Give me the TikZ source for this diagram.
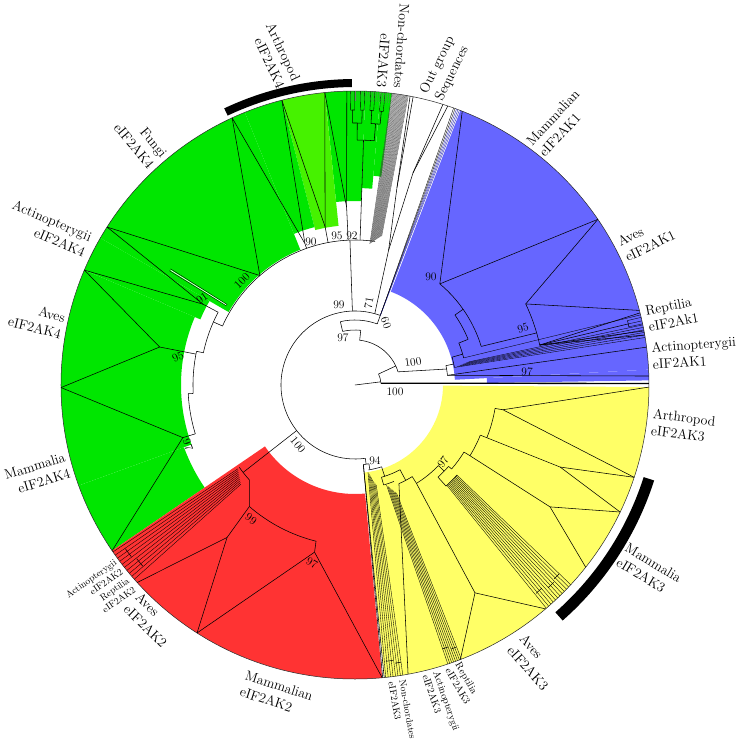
\documentclass[tikz,border=0pt]{standalone}
\usepackage{fontspec}
\definecolor{gC}{RGB}{0,230,0}
\definecolor{lgC}{RGB}{70,242,0}
\definecolor{bC}{RGB}{102,102,255}
\definecolor{rC}{RGB}{255,51,51}
\definecolor{yC}{RGB}{255,255,102}
\newcommand\mysect[5]{\fill[#1] (#2:#4) arc[start angle=#2,end angle=#3,radius=#4pt] -- (#3:#5) arc[start angle=#3,end angle=#2,radius=#5pt] -- cycle;}
\newcommand\myarc[3]{\draw[br] (#1:#3) arc[start angle=#1,end angle=#2,radius=#3pt];}
\begin{document}
\begin{tikzpicture}[x=1pt,y=1pt,line join=round,
 br/.style={line width=0.55pt,black},
 tp/.style={line width=0.35pt,black},
 lab/.style={inner sep=0pt,font=\fontsize{13.8}{17}\selectfont},
 sml/.style={inner sep=0pt,font=\fontsize{10}{11.5}\selectfont},
 xs/.style={inner sep=0pt,font=\fontsize{9.5}{11}\selectfont},
 num/.style={inner sep=0pt,font=\fontsize{11.5}{13}\selectfont}]
\useasboundingbox (-355,-355) rectangle (385,385);

% ---------- coloured clades ----------
\mysect{bC}{3}{69}{100}{294}
\mysect{bC}{0.9}{3}{132}{294}
\mysect{gC}{82.8}{85}{210}{294}
\mysect{gC}{85}{88}{197}{294}
\mysect{gC}{88}{95.9}{184}{294}
\mysect{lgC}{95.9}{104.4}{160}{294}
\mysect{gC}{104.4}{112}{163}{294}
\mysect{gC}{112}{150}{146}{294}
\mysect{gC}{150}{157}{168}{294}
\mysect{gC}{157}{200}{174}{294}
\mysect{gC}{200}{214.3}{182}{294}
\mysect{rC}{214.3}{275.3}{109}{294}
\mysect{yC}{-84.2}{-0.4}{88}{294}

% outer circle and bars
\draw[line width=0.5pt,black!85] (0,0) circle[radius=294pt];
\mysect{black}{90.6}{115.3}{298}{306}
\mysect{black}{-48.6}{-17.7}{303}{314}

% ---------- backbone ----------
\coordinate (root) at (0,0);
\coordinate (n0) at (7:26);
\draw[br] (root) -- (n0);
\myarc{4}{25}{26}
\draw[black,line width=1.3pt] (4:26) -- (0.3:294);
\draw[br] (25:26) -- (25:45);
\myarc{17}{84}{45}
\draw[br] (84:45) -- (84:55);
\myarc{84}{103}{55}
\draw[br] (103:55) -- (103:65);
\myarc{70}{103}{65}
\draw[br] (70:65) -- (70:74);
\myarc{70}{278}{74}

% ---------- blue clade ----------
\coordinate (b0) at (9.9:93);
\draw[br] (17:45) -- (b0);
\myarc{6}{12}{93}
\draw[br] (6:93) -- (1.75:294);
\draw[br] (6:93) -- (7.4:294);
\draw[br] (12:93) -- (12:101);
\myarc{10}{16}{101}
\foreach \i in {0,...,5} \draw[tp] ({10+0.3*\i}:{101+3*\i}) -- ({9.3+0.5*\i}:294);
\draw[br] (16:101) -- (16:112);
\myarc{14}{22}{112}
\draw[tp] (14:112) -- (13.8:294);
\draw[br] (22:112) -- (22:122);
\myarc{22}{35}{122}
\draw[br] (35:122) -- (35:132);
\myarc{17}{50}{132}
\coordinate (n90b) at (50:132);
\draw[br] (n90b) -- (68.6:294);
\draw[br] (n90b) -- (34.3:294);
\draw[br] (17:132) -- (16:189);
\myarc{12.2}{25.4}{189}
\coordinate (n95b) at (25.4:189);
\draw[br] (n95b) -- (34.3:294);
\draw[br] (n95b) -- (14.7:294);
\coordinate (nrb) at (12.2:189);
\draw[br] (nrb) -- (14.2:294);
\draw[br] (nrb) -- (12.6:280);
\myarc{12}{13.3}{280}
\foreach \a in {12,12.6,13.3} \draw[tp] (\a:280) -- (\a:294);
\draw[br] (nrb) -- (10.6:294);
\draw[br] (nrb) -- (9.8:294);
\foreach \a in {69.2,69.5,69.8} \draw[bC!75!black,line width=0.5pt] (70:74) -- (\a:294);
\foreach \a in {70.1,70.4} \draw[tp] (70:74) -- (\a:294);

% ---------- outgroup ----------
\coordinate (og) at (74.5:74);
\coordinate (og1) at (76:139);
\coordinate (og2) at (78:202);
\coordinate (og3) at (74.7:220);
\draw[br] (og) -- (og1);
\draw[br] (og1) -- (og2);
\draw[br] (og1) -- (og3);
\draw[br] (og2) -- (79.2:294);
\draw[br] (og2) -- (78.6:294);
\draw[br] (og3) -- (71.6:294);
\draw[br] (og3) -- (72.6:294);

% non-chordates eIF2AK3 (grey bundle)
\foreach \i in {0,...,19} \draw[line width=0.35pt,black!75] ({84-0.22*\i}:{142+0.5*\i}) -- ({82.8-0.17*\i}:294);

% ---------- green clade ----------
\draw[br] (92:74) -- (92:145);
\myarc{82}{156}{145}
\coordinate (n92g) at (92.7:178);
\draw[br] (92.7:145) -- (n92g);
\draw[br] (n92g) -- (95.9:294);
\draw[br] (n92g) -- (91.6:294);
\coordinate (n95g) at (100.7:161);
\draw[br] (100.7:145) -- (n95g);
\draw[br] (n95g) -- (104.4:294);
\draw[br] (n95g) -- (95.9:294);
\coordinate (n90g) at (109.5:150);
\draw[br] (109.5:145) -- (n90g);
\draw[br] (n90g) -- (114.7:294);
\draw[br] (n90g) -- (104.4:294);
\coordinate (nf) at (131:145);
\draw[br] (nf) -- (114.7:294);
\draw[br] (nf) -- (147.5:294);
% small green non-chordate tree
\draw[br] (88:145) -- (88:245);
\myarc{85.5}{89.5}{245}
\draw[br] (89.5:245) -- (89.5:262);
\myarc{88.5}{90.5}{262}
\draw[br] (90.5:262) -- (90.5:275);
\myarc{90.1}{90.9}{275}
\draw[br] (88.5:262) -- (88.5:275);
\myarc{88.1}{88.9}{275}
\draw[br] (85.5:245) -- (85.5:262);
\myarc{84.5}{86.5}{262}
\draw[br] (86.5:262) -- (86.5:275);
\myarc{86.1}{86.9}{275}
\draw[br] (84.5:262) -- (84.5:275);
\myarc{84.1}{84.9}{275}
\foreach \a in {90.1,90.9,88.1,88.9,86.1,86.9,84.1,84.9} \draw[tp] (\a:275) -- (\a:294);
\foreach \a in {83.2,83.6,...,91.2} \draw[line width=0.3pt,black!55] (\a:284) -- (\a:294);
% left green
\draw[br] (156:145) -- (156:155);
\myarc{152}{168}{155}
\coordinate (n91) at (152:172);
\draw[br] (152:155) -- (n91);
\draw[br] (n91) -- (147.5:294);
\draw[br] (n91) -- (157:294);
\draw[tp] (147.8:151) -- (147.8:218);
\draw[tp] (148.4:151) -- (148.4:218);
\draw[white,line width=0.6pt] (148.1:152) -- (148.1:217);
\draw[br] (168:155) -- (168:162);
\myarc{168}{183}{162}
\coordinate (n95l) at (169:199);
\draw[br] (169:162) -- (n95l);
\draw[br] (n95l) -- (157:294);
\draw[br] (n95l) -- (180.5:294);
\draw[br] (183:162) -- (183:167);
\myarc{183}{197}{167}
\coordinate (n97l) at (197:180);
\draw[br] (197:167) -- (n97l);
\draw[br] (n97l) -- (180.5:294);
\draw[br] (n97l) -- (214.3:294);

% ---------- red clade ----------
\draw[br] (218:74) -- (218:142);
\myarc{215.4}{222}{142}
\foreach \i in {0,...,9} \draw[tp] ({215.6+0.6*\i}:{144+0.8*\i}) -- ({214.6+0.75*\i}:294);
\myarc{215.5}{217.5}{282}
\myarc{218.5}{220.5}{279}
\coordinate (n99r) at (229:161);
\draw[br] (222:142) -- (n99r);
\myarc{229}{256}{161}
\coordinate (na2) at (230:199);
\draw[br] (n99r) -- (na2);
\draw[br] (na2) -- (222.2:294);
\draw[br] (na2) -- (237.5:294);
\coordinate (n97r) at (256.4:172);
\draw[br] (256:161) -- (n97r);
\draw[br] (n97r) -- (237.5:294);
\draw[br] (n97r) -- (275.3:294);

% ---------- yellow clade ----------
\draw[br] (-82:74) -- (-82:80);
\myarc{-84}{-80}{80}
\draw[br] (-84:80) -- (-84.6:294);
\draw[br] (-84:80) -- (-84.3:294);
\draw[br] (-80:80) -- (-80:86);
\myarc{-81}{-72}{86}
\foreach \i in {0,...,7} \draw[tp] ({-81.5+0.5*\i}:{88+2*\i}) -- ({-84+0.48*\i}:294);
\myarc{-83.6}{-82.2}{278}
\myarc{-81.8}{-80.6}{281}
\draw[br] (-72:86) -- (-72:96);
\myarc{-74}{-62}{96}
\draw[br] (-74:96) -- (-74:104);
\myarc{-74}{-68}{104}
\foreach \i in {0,...,7} \draw[tp] ({-72.5+0.5*\i}:{105+1.5*\i}) -- ({-71.6+0.4*\i}:294);
\myarc{-71.6}{-70.4}{278}
\myarc{-70}{-69}{281}
\draw[br] (-62:96) -- (-62:108);
\myarc{-66}{-58}{108}
\draw[br] (-66:108) -- (-79.6:294);
\draw[br] (-58:108) -- (-58:116);
\myarc{-58}{-44}{116}
\coordinate (nay) at (-60:240);
\draw[br] (-58:116) -- (nay);
\draw[br] (nay) -- (-69:294);
\draw[br] (nay) -- (-49.6:294);
\draw[br] (-44:116) -- (-44:124);
\myarc{-48}{-41}{124}
\draw[br] (-48:124) -- (-48:136);
\myarc{-48}{-41.4}{136}
\foreach \i in {0,...,11} \draw[tp] ({-47.5+0.55*\i}:136) -- ({-49.4+0.6*\i}:294);
\myarc{-49}{-47.4}{276}
\myarc{-46.4}{-44.8}{280}
\myarc{-44.2}{-42.8}{278}
\draw[br] (-41:124) -- (-41:128);
\myarc{-41}{-31.6}{128}
\draw[br] (-31.6:128) -- (-31.6:135);
\myarc{-31.6}{-21.8}{135}
\draw[br] (-21.8:135) -- (-21.8:142);
\myarc{-21.8}{-9.5}{142}
\coordinate (nt3) at (-32:230);
\draw[br] (-31.6:135) -- (nt3);
\draw[br] (nt3) -- (-25.6:294);
\draw[br] (nt3) -- (-38.3:294);
\coordinate (nt2) at (-21.8:221);
\draw[br] (-21.8:142) -- (nt2);
\draw[br] (nt2) -- (-18.3:294);
\draw[br] (nt2) -- (-25.6:294);
\coordinate (nt1) at (-9.5:150);
\draw[br] (-9.5:142) -- (nt1);
\draw[br] (nt1) -- (-0.4:294);
\draw[br] (nt1) -- (-18.3:294);

% ---------- support values ----------
\node[num] (s1) at (40,-7) {100};
\node[num,rotate=8] (s2) at (58,23) {100};
\node[num] (s3) at (-12,47) {97};
\node[num] (s4) at (-16,80) {99};
\node[num,rotate=80] (s5) at (14,82) {71};
\node[num,rotate=-70] (s6) at (31,62) {60};
\node[num,rotate=-50] (s7) at (-57,-60) {100};
\node[num] (s8) at (20,-76) {94};
\node[num,rotate=55] (s9) at (88,-77) {97};
\node[num,rotate=-3] (s10) at (172,13) {97};
\node[num,rotate=15] (s11) at (168,57) {95};
\node[num] (s12) at (76,108) {90};
\node[num] (s13) at (-44,143) {90};
\node[num] (s14) at (-18,149) {95};
\node[num] (s15) at (-3,149) {92};
\node[num,rotate=45] (s16) at (-113,104) {100};
\node[num,rotate=35] (s17) at (-153,87) {91};
\node[num,rotate=25] (s18) at (-177,28) {95};
\node[num,rotate=-70] (s19) at (-167,-60) {97};
\node[num,rotate=-35] (s20) at (-104,-134) {99};
\node[num,rotate=-28] (s21) at (-43,-178) {97};

% ---------- clade labels ----------
\node[lab,align=right,anchor=east,rotate=-94] (l1) at (35,297) {Non-chordates\\eIF2AK3};
\node[lab,align=left,anchor=west,rotate=64] (l2) at (76.5,288.5) {Out group\\Sequences};
\node[lab,align=left,anchor=west,rotate=47] (l3) at (180,236) {Mammalian\\eIF2AK1};
\node[lab,align=left,anchor=west,rotate=26] (l4) at (267,135) {Aves\\eIF2AK1};
\node[lab,align=left,anchor=west,rotate=11] (l5) at (292,66) {Reptilia\\eIF2Ak1};
\node[lab,align=left,anchor=west,rotate=4] (l6) at (297,29) {Actinopterygii\\eIF2AK1};
\node[lab,align=left,anchor=west,rotate=-7] (l7) at (297,-37) {Arthropod\\eIF2AK3};
\node[lab,align=left,anchor=west,rotate=-31] (l8) at (267,-169) {Mammalia\\eIF2AK3};
\node[lab,align=left,anchor=west,rotate=-48] (l9) at (161,-257) {Aves\\eIF2AK3};
\node[sml,align=left,anchor=west,rotate=-60] (l10) at (98,-281) {Reptilia\\eIF2AK3};
\node[sml,align=left,anchor=west,rotate=-71] (l11) at (76,-288) {Actinopterygii\\eIF2AK3};
\node[xs,align=left,anchor=west,rotate=-80] (l12) at (42,-296) {Non-chordates\\eIF2AK3};
\node[lab,align=left,anchor=west,rotate=-18] (l13) at (-112,-298) {Mammalian\\eIF2AK2};
\node[lab,align=left,anchor=west,rotate=-44] (l14) at (-223,-216) {Aves\\eIF2AK2};
\node[xs,align=right,anchor=east,rotate=35] (l15) at (-230,-190) {Actinopterygii\\eIF2AK2\\Reptilia\\eIF2AK2};
\node[lab,align=right,anchor=east,rotate=17] (l16) at (-287.5,-80) {Mammalia\\eIF2AK4};
\node[lab,align=right,anchor=east,rotate=-14] (l17) at (-292,59) {Aves\\eIF2AK4};
\node[lab,align=right,anchor=east,rotate=-23] (l18) at (-267,140) {Actinopterygii\\eIF2AK4};
\node[lab,align=right,anchor=east,rotate=-50] (l19) at (-197,224) {Fungi\\eIF2AK4};
\node[lab,align=right,anchor=east,rotate=-65] (l20) at (-66,301) {Arthropod\\eIF2AK4};
\end{tikzpicture}
\end{document}
